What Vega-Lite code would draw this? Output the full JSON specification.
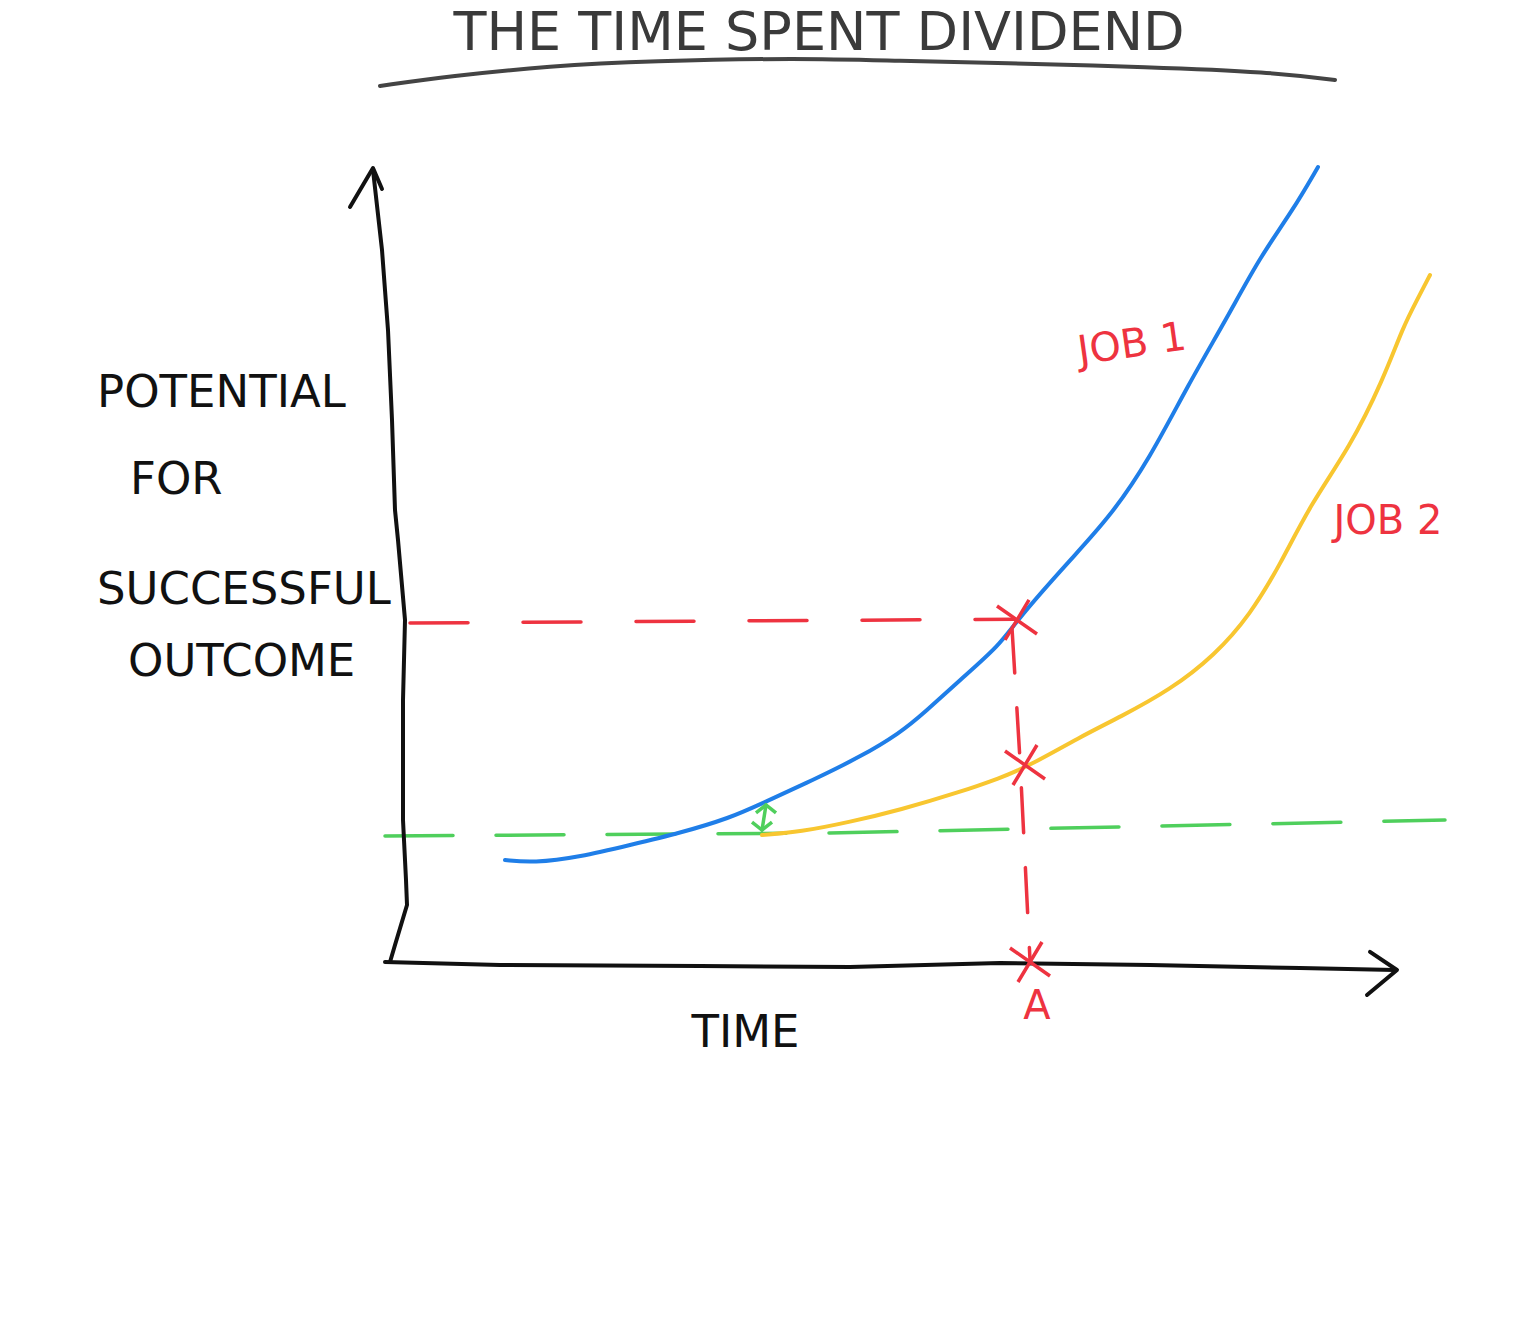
{
  "$schema": "https://vega.github.io/schema/vega-lite/v6.json",
  "width": 1000,
  "height": 795,
  "autosize": {"type": "none"},
  "padding": {"left": 398, "top": 170, "right": 138, "bottom": 359},
  "background": "white",
  "config": {"view": {"stroke": null}},
  "datasets": {
    "underline": [
      {"t": -1.8, "p": 110.57, "i": 1}, {"t": 5.2, "p": 111.82, "i": 2}, {"t": 15.2, "p": 113.08, "i": 3},
      {"t": 25.2, "p": 113.71, "i": 4}, {"t": 40.2, "p": 114.09, "i": 5}, {"t": 50.2, "p": 113.71, "i": 6},
      {"t": 60.2, "p": 113.46, "i": 7}, {"t": 75.2, "p": 112.96, "i": 8}, {"t": 87.2, "p": 112.33, "i": 9},
      {"t": 93.7, "p": 111.32, "i": 10}
    ],
    "titleText": [{"text": "THE TIME SPENT DIVIDEND", "t": 42.1, "p": 115.1}],
    "yLabels": [
      {"text": "POTENTIAL", "t": -30.1, "p": 71.95},
      {"text": "FOR", "t": -26.8, "p": 61.01},
      {"text": "SUCCESSFUL", "t": -30.1, "p": 47.17},
      {"text": "OUTCOME", "t": -27.0, "p": 38.11}
    ],
    "greenGuide": [
      {"t": -1.3, "p": 16.23, "i": 1}, {"t": 43.2, "p": 16.6, "i": 2}, {"t": 104.7, "p": 18.24, "i": 3}
    ],
    "redH": [
      {"t": 1.2, "p": 43.02, "i": 1}, {"t": 61.7, "p": 43.5, "i": 2}
    ],
    "redV": [
      {"t": 61.4, "p": 42.39, "i": 1}, {"t": 62.2, "p": 25.79, "i": 2}, {"t": 63.2, "p": 0.63, "i": 3}
    ],
    "curves": [
      {"series": "JOB 1", "t": 10.7, "p": 13.21}, {"series": "JOB 1", "t": 13.5, "p": 12.83},
      {"series": "JOB 1", "t": 18.2, "p": 13.58}, {"series": "JOB 1", "t": 23.2, "p": 15.09},
      {"series": "JOB 1", "t": 28.2, "p": 16.6}, {"series": "JOB 1", "t": 33.2, "p": 18.49},
      {"series": "JOB 1", "t": 36.5, "p": 20.38}, {"series": "JOB 1", "t": 41.5, "p": 23.27},
      {"series": "JOB 1", "t": 46.2, "p": 26.16}, {"series": "JOB 1", "t": 50.2, "p": 29.18},
      {"series": "JOB 1", "t": 52.7, "p": 31.82}, {"series": "JOB 1", "t": 56.2, "p": 35.85},
      {"series": "JOB 1", "t": 60.2, "p": 40.25}, {"series": "JOB 1", "t": 61.9, "p": 43.4},
      {"series": "JOB 1", "t": 67.2, "p": 50.94}, {"series": "JOB 1", "t": 71.2, "p": 56.35},
      {"series": "JOB 1", "t": 75.2, "p": 63.77}, {"series": "JOB 1", "t": 79.0, "p": 72.96},
      {"series": "JOB 1", "t": 82.9, "p": 81.38}, {"series": "JOB 1", "t": 86.2, "p": 89.06},
      {"series": "JOB 1", "t": 89.5, "p": 94.97}, {"series": "JOB 1", "t": 92.0, "p": 100.38},
      {"series": "JOB 2", "t": 36.4, "p": 16.35}, {"series": "JOB 2", "t": 40.2, "p": 16.73},
      {"series": "JOB 2", "t": 45.2, "p": 17.99}, {"series": "JOB 2", "t": 50.2, "p": 19.5},
      {"series": "JOB 2", "t": 56.2, "p": 21.76}, {"series": "JOB 2", "t": 60.2, "p": 23.52},
      {"series": "JOB 2", "t": 62.9, "p": 24.91}, {"series": "JOB 2", "t": 68.2, "p": 28.68},
      {"series": "JOB 2", "t": 72.2, "p": 31.19}, {"series": "JOB 2", "t": 77.2, "p": 34.59},
      {"series": "JOB 2", "t": 81.7, "p": 38.99}, {"series": "JOB 2", "t": 85.2, "p": 44.03},
      {"series": "JOB 2", "t": 88.2, "p": 50.31}, {"series": "JOB 2", "t": 91.2, "p": 57.86},
      {"series": "JOB 2", "t": 95.2, "p": 65.16}, {"series": "JOB 2", "t": 98.5, "p": 73.58},
      {"series": "JOB 2", "t": 100.5, "p": 80.25}, {"series": "JOB 2", "t": 101.9, "p": 83.65},
      {"series": "JOB 2", "t": 103.2, "p": 86.79}
    ],
    "axisLines": [
      {"part": "y", "i": 1, "t": -0.8, "p": 0.38}, {"part": "y", "i": 2, "t": -0.3, "p": 2.52},
      {"part": "y", "i": 3, "t": 0.9, "p": 7.55}, {"part": "y", "i": 4, "t": 0.8, "p": 10.69},
      {"part": "y", "i": 5, "t": 0.5, "p": 18.24}, {"part": "y", "i": 6, "t": 0.5, "p": 33.33},
      {"part": "y", "i": 7, "t": 0.7, "p": 43.4}, {"part": "y", "i": 8, "t": 0.0, "p": 53.46},
      {"part": "y", "i": 9, "t": -0.3, "p": 57.23}, {"part": "y", "i": 10, "t": -0.6, "p": 68.55},
      {"part": "y", "i": 11, "t": -1.0, "p": 79.87}, {"part": "y", "i": 12, "t": -1.6, "p": 89.94},
      {"part": "y", "i": 13, "t": -2.5, "p": 100.0},
      {"part": "yArrow", "i": 1, "t": -4.8, "p": 95.35}, {"part": "yArrow", "i": 2, "t": -2.5, "p": 100.25},
      {"part": "yArrow", "i": 3, "t": -1.6, "p": 97.61},
      {"part": "x", "i": 1, "t": -1.3, "p": 0.38}, {"part": "x", "i": 2, "t": 10.2, "p": 0.0},
      {"part": "x", "i": 3, "t": 30.2, "p": -0.13}, {"part": "x", "i": 4, "t": 45.2, "p": -0.25},
      {"part": "x", "i": 5, "t": 60.2, "p": 0.25}, {"part": "x", "i": 6, "t": 75.2, "p": 0.0},
      {"part": "x", "i": 7, "t": 90.2, "p": -0.38}, {"part": "x", "i": 8, "t": 99.7, "p": -0.63},
      {"part": "xArrow", "i": 1, "t": 97.2, "p": 1.64}, {"part": "xArrow", "i": 2, "t": 99.9, "p": -0.63},
      {"part": "xArrow", "i": 3, "t": 96.9, "p": -3.77}
    ],
    "crosses": [
      {"t": 61.9, "p": 43.4}, {"t": 62.7, "p": 25.16}, {"t": 63.2, "p": 0.38}
    ],
    "arrowShaft": [
      {"t": 36.8, "p": 20.13, "i": 1}, {"t": 36.4, "p": 16.98, "i": 2}
    ],
    "arrowTips": [
      {"dir": "up", "t": 36.8, "p": 20.13}, {"dir": "down", "t": 36.4, "p": 16.98}
    ],
    "redLabels": [
      {"text": "JOB 1", "t": 73.4, "p": 77.99},
      {"text": "JOB 2", "t": 99.0, "p": 55.72},
      {"text": "A", "t": 63.9, "p": -5.3}
    ]
  },
  "encoding": {
    "x": {
      "field": "t", "type": "quantitative",
      "scale": {"domain": [0, 100], "nice": false, "zero": false},
      "axis": {
        "domain": false, "ticks": false, "labels": false, "grid": false,
        "title": "TIME", "titleFont": "DejaVu Sans", "titleFontSize": 45, "titleFontWeight": "normal",
        "titleColor": "#111111", "titleX": 347, "titleY": 67, "titleBaseline": "middle", "titleAlign": "center"
      }
    },
    "y": {
      "field": "p", "type": "quantitative",
      "scale": {"domain": [0, 100], "nice": false, "zero": false},
      "axis": null
    }
  },
  "layer": [
    {
      "data": {"name": "underline"},
      "mark": {"type": "line", "color": "#444444", "strokeWidth": 4, "interpolate": "basis", "strokeCap": "round"},
      "encoding": {"order": {"field": "i", "type": "quantitative"}}
    },
    {
      "data": {"name": "titleText"},
      "mark": {"type": "text", "font": "DejaVu Sans", "fontSize": 54, "color": "#3a3a3a", "align": "center", "baseline": "alphabetic"},
      "encoding": {"text": {"field": "text", "type": "nominal"}}
    },
    {
      "data": {"name": "yLabels"},
      "mark": {"type": "text", "font": "DejaVu Sans", "fontSize": 45, "color": "#111111", "align": "left", "baseline": "middle"},
      "encoding": {"text": {"field": "text", "type": "nominal"}}
    },
    {
      "data": {"name": "greenGuide"},
      "mark": {"type": "line", "color": "#4fcf5c", "strokeWidth": 3.5, "strokeDash": [68, 43], "strokeCap": "round"},
      "encoding": {"order": {"field": "i", "type": "quantitative"}}
    },
    {
      "data": {"name": "redH"},
      "mark": {"type": "line", "color": "#ee3340", "strokeWidth": 3.5, "strokeDash": [58, 55], "strokeCap": "round"},
      "encoding": {"order": {"field": "i", "type": "quantitative"}}
    },
    {
      "data": {"name": "redV"},
      "mark": {"type": "line", "color": "#ee3340", "strokeWidth": 3.5, "strokeDash": [45, 35], "strokeCap": "round"},
      "encoding": {"order": {"field": "i", "type": "quantitative"}}
    },
    {
      "data": {"name": "curves"},
      "mark": {"type": "line", "strokeWidth": 4, "interpolate": "basis", "strokeCap": "round"},
      "encoding": {
        "color": {
          "field": "series", "type": "nominal",
          "scale": {"domain": ["JOB 1", "JOB 2"], "range": ["#1f7ee8", "#f8c630"]},
          "legend": null
        }
      }
    },
    {
      "data": {"name": "axisLines"},
      "mark": {"type": "line", "color": "#111111", "strokeWidth": 4, "strokeCap": "round", "strokeJoin": "round"},
      "encoding": {
        "detail": {"field": "part", "type": "nominal"},
        "order": {"field": "i", "type": "quantitative"}
      }
    },
    {
      "data": {"name": "crosses"},
      "mark": {"type": "point", "shape": "M-1,-0.7L1,0.7M-0.6,1L0.6,-1", "size": 1600, "filled": false, "color": "#ee3340", "strokeWidth": 3.5, "opacity": 1},
      "encoding": {}
    },
    {
      "data": {"name": "arrowShaft"},
      "mark": {"type": "line", "color": "#4fcf5c", "strokeWidth": 3.5, "strokeCap": "round"},
      "encoding": {"order": {"field": "i", "type": "quantitative"}}
    },
    {
      "data": {"name": "arrowTips"},
      "mark": {"type": "point", "size": 400, "filled": false, "color": "#4fcf5c", "strokeWidth": 3.5, "opacity": 1},
      "encoding": {
        "shape": {
          "field": "dir", "type": "nominal",
          "scale": {"domain": ["up", "down"], "range": ["M-1,0.8L0,0L1,0.8", "M-1,-0.8L0,0L1,-0.8"]},
          "legend": null
        }
      }
    },
    {
      "data": {"name": "redLabels"},
      "transform": [{"filter": "datum.text === 'JOB 1'"}],
      "mark": {"type": "text", "font": "DejaVu Sans", "fontSize": 40, "color": "#ee3340", "align": "center", "baseline": "middle", "angle": 352},
      "encoding": {"text": {"field": "text", "type": "nominal"}}
    },
    {
      "data": {"name": "redLabels"},
      "transform": [{"filter": "datum.text !== 'JOB 1'"}],
      "mark": {"type": "text", "font": "DejaVu Sans", "fontSize": 40, "color": "#ee3340", "align": "center", "baseline": "middle"},
      "encoding": {"text": {"field": "text", "type": "nominal"}}
    }
  ]
}
